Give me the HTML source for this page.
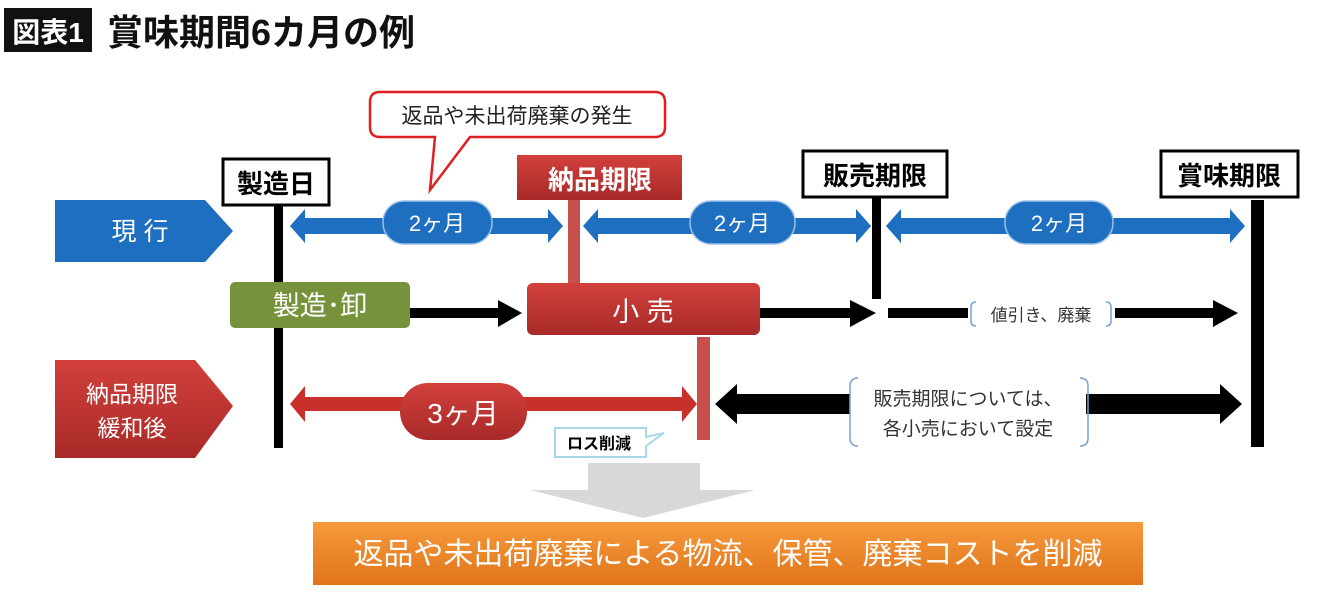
<!DOCTYPE html>
<html><head><meta charset="utf-8"><style>
html,body{margin:0;padding:0;background:#fff;}
svg{display:block;font-family:"Liberation Sans","Noto Sans CJK JP",sans-serif;}
</style></head><body>
<svg width="1340" height="600" viewBox="0 0 1340 600" xmlns="http://www.w3.org/2000/svg">
<defs>
<linearGradient id="red" x1="0" y1="0" x2="0" y2="1"><stop offset="0" stop-color="#d2403c"/><stop offset="1" stop-color="#a82a28"/></linearGradient>
<linearGradient id="org" x1="0" y1="0" x2="0" y2="1"><stop offset="0" stop-color="#f79a3c"/><stop offset="1" stop-color="#e0741a"/></linearGradient>
</defs>
<!-- title -->
<rect x="4" y="8" width="88" height="44" fill="#111"/>
<text x="48" y="42" font-size="28" font-weight="bold" fill="#fff" text-anchor="middle">図表1</text>
<text x="107" y="45" font-size="36" font-weight="bold" fill="#111">賞味期間6カ月の例</text>

<!-- callout -->
<path d="M380,92 H655 Q665,92 665,102 V127 Q665,137 655,137 H470 L430,190 L435,137 H380 Q370,137 370,127 V102 Q370,92 380,92 Z" fill="#fff" stroke="#e02020" stroke-width="2.5"/>
<text x="517" y="123" font-size="21" text-anchor="middle" fill="#222">返品や未出荷廃棄の発生</text>

<!-- vertical lines -->
<rect x="274" y="205" width="9" height="243" fill="#000"/>
<rect x="568" y="198" width="12" height="87" fill="#c8504c"/>
<rect x="872" y="197" width="9" height="102" fill="#000"/>
<rect x="1251" y="200" width="13" height="247" fill="#000"/>
<rect x="697" y="337" width="13" height="103" fill="#c8504c"/>

<!-- header boxes -->
<rect x="223" y="159" width="106" height="46" fill="#fff" stroke="#000" stroke-width="3"/>
<text x="276" y="193" font-size="26" font-weight="bold" text-anchor="middle">製造日</text>
<rect x="517" y="155" width="165" height="45" fill="url(#red)"/>
<text x="600" y="189" font-size="26" font-weight="bold" text-anchor="middle" fill="#fff">納品期限</text>
<rect x="803" y="151" width="144" height="46" fill="#fff" stroke="#000" stroke-width="3"/>
<text x="875" y="185" font-size="26" font-weight="bold" text-anchor="middle">販売期限</text>
<rect x="1161" y="151" width="137" height="46" fill="#fff" stroke="#000" stroke-width="3"/>
<text x="1229" y="185" font-size="26" font-weight="bold" text-anchor="middle">賞味期限</text>

<!-- pentagons -->
<polygon points="55,200 205,200 233,231 205,262 55,262" fill="#1f6fc0"/>
<text x="140" y="240" font-size="25" fill="#fff" text-anchor="middle">現 行</text>
<polygon points="55,360 195,360 233,406 195,458 55,458" fill="url(#red)"/>
<text x="132" y="402" font-size="23" fill="#fff" text-anchor="middle">納品期限</text>
<text x="132" y="436" font-size="23" fill="#fff" text-anchor="middle">緩和後</text>

<!-- blue arrows -->
<g fill="#1f6fc0">
<polygon points="290,226 305,209 305,218 548,218 548,209 563,226 548,243 548,234 305,234 305,243"/>
<polygon points="583,226 598,209 598,218 856,218 856,209 871,226 856,243 856,234 598,234 598,243"/>
<polygon points="886,226 901,209 901,218 1230,218 1230,209 1245,226 1230,243 1230,234 901,234 901,243"/>
</g>
<g stroke="#9cc0e8" stroke-width="1.5" fill="#1f6fc0">
<rect x="383" y="201" width="109" height="43" rx="21"/>
<rect x="690" y="201" width="105" height="43" rx="21"/>
<rect x="1005" y="201" width="108" height="43" rx="21"/>
</g>
<g font-size="22" fill="#fff" text-anchor="middle">
<text x="437" y="231">2ヶ月</text><text x="742" y="231">2ヶ月</text><text x="1059" y="231">2ヶ月</text>
</g>

<!-- middle row -->
<rect x="230" y="282" width="180" height="46" rx="5" fill="#76933c"/>
<text x="320" y="315" font-size="27" fill="#fff" text-anchor="middle">製造･卸</text>
<rect x="527" y="283" width="233" height="52" rx="6" fill="url(#red)"/>
<text x="643" y="321" font-size="27" fill="#fff" text-anchor="middle">小  売</text>
<g fill="#000">
<rect x="410" y="308" width="90" height="10"/><polygon points="498,300 522,313 498,327"/>
<rect x="760" y="308" width="92" height="10"/><polygon points="850,300 876,313 850,327"/>
<rect x="888" y="308" width="80" height="10"/>
<rect x="1115" y="308" width="100" height="10"/><polygon points="1213,300 1238,313 1213,327"/>
</g>
<path d="M976,302 Q971,302 971,307 V321 Q971,326 976,326" fill="none" stroke="#7aa0d0" stroke-width="1.5"/>
<path d="M1106,302 Q1111,302 1111,307 V321 Q1111,326 1106,326" fill="none" stroke="#7aa0d0" stroke-width="1.5"/>
<text x="1041" y="321" font-size="17" text-anchor="middle" fill="#333">値引き、廃棄</text>

<!-- bottom row -->
<polygon points="290,404 305,386 305,397 682,397 682,386 697,404 682,422 682,411 305,411 305,422" fill="#c8302c"/>
<rect x="400" y="383" width="127" height="57" rx="28" fill="url(#red)"/>
<text x="463" y="423" font-size="28" fill="#fff" text-anchor="middle">3ヶ月</text>
<polygon points="715,404 737,384 737,394 1220,394 1220,384 1242,404 1220,424 1220,414 737,414 737,424" fill="#000"/>
<rect x="850" y="376" width="236" height="72" fill="#fff"/>
<path d="M858,378 Q850,378 850,386 V438 Q850,446 858,446" fill="none" stroke="#7aa0d0" stroke-width="1.5"/>
<path d="M1080,378 Q1088,378 1088,386 V438 Q1088,446 1080,446" fill="none" stroke="#7aa0d0" stroke-width="1.5"/>
<text x="968" y="405" font-size="19" text-anchor="middle" fill="#333">販売期限については、</text>
<text x="968" y="435" font-size="19" text-anchor="middle" fill="#333">各小売において設定</text>

<!-- loss callout -->
<path d="M555,428 H646 V437 L664,433 L646,446 V457 H555 Z" fill="#fff" stroke="#a8d8e8" stroke-width="2"/>
<text x="599" y="449" font-size="16" font-weight="bold" text-anchor="middle">ロス削減</text>

<!-- gray arrow -->
<polygon points="588,463 700,463 700,490 755,490 643,518 530,490 588,490" fill="#d8d8d8"/>

<!-- orange -->
<rect x="313" y="522" width="830" height="63" fill="url(#org)"/>
<text x="728" y="564" font-size="30" fill="#fff" text-anchor="middle">返品や未出荷廃棄による物流、保管、廃棄コストを削減</text>
</svg>
</body></html>
